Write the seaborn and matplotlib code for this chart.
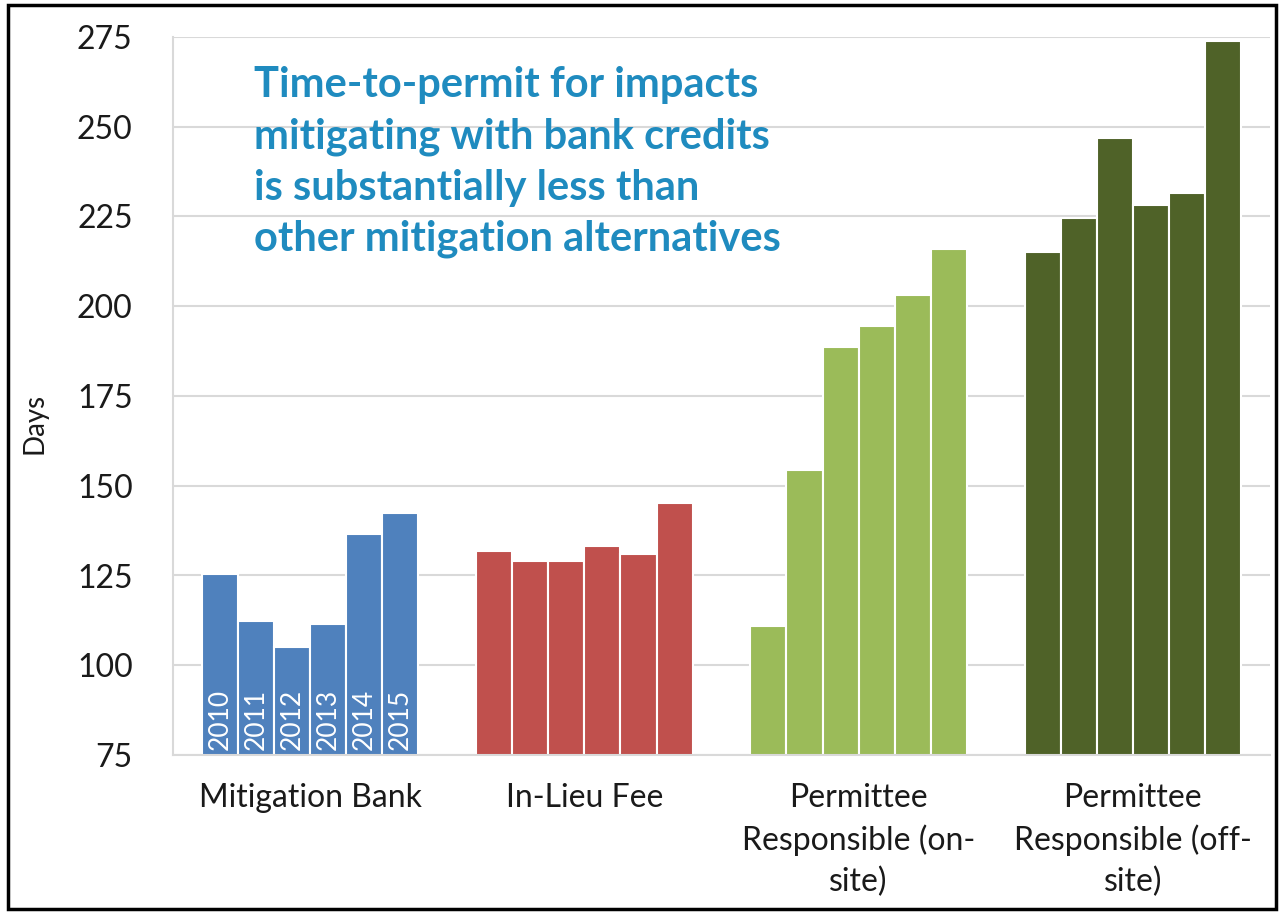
import matplotlib
matplotlib.use("Agg")
import matplotlib.pyplot as plt
import seaborn as sns
import pandas as pd
from matplotlib.patches import Rectangle

categories = ["Mitigation Bank", "In-Lieu Fee",
              "Permittee Responsible (on-site)", "Permittee Responsible (off-site)"]
tick_labels = ["Mitigation Bank", "In-Lieu Fee",
               "Permittee\nResponsible (on-\nsite)", "Permittee\nResponsible (off-\nsite)"]
years = ["2010", "2011", "2012", "2013", "2014", "2015"]
mitigation_bank = [125.3, 112.2, 105.1, 111.5, 136.6, 142.3]
in_lieu_fee = [131.8, 128.9, 128.9, 133.2, 131.0, 145.1]
permittee_on_site = [110.8, 154.5, 188.6, 194.6, 203.2, 216.0]
permittee_off_site = [215.1, 224.6, 246.8, 228.2, 231.6, 273.8]
colors = ["#4F81BD", "#C0504D", "#9BBB59", "#4F6228"]
note = ("Time-to-permit for impacts\nmitigating with bank credits\n"
        "is substantially less than\nother mitigation alternatives")

rows = []
for cat, vals in zip(categories, [mitigation_bank, in_lieu_fee, permittee_on_site, permittee_off_site]):
    for y, v in zip(years, vals):
        rows.append({"category": cat, "year": y, "days": v})
df = pd.DataFrame(rows)

sns.set_theme(style="white")
plt.rcParams["font.family"] = ["Lato", "DejaVu Sans"]

fig = plt.figure(figsize=(12.83, 9.13), dpi=100)
ax = fig.add_axes([173/1283, 1-755/913, (1270-173)/1283, (755-37)/913])

sns.barplot(data=df, x="category", y="days", hue="year", order=categories,
            hue_order=years, dodge=True, width=0.79, legend=False, ax=ax,
            edgecolor="white", linewidth=1.5, errorbar=None)

for container in ax.containers:
    for i, bar in enumerate(container):
        bar.set_facecolor(colors[i])

# year labels inside Mitigation Bank bars
for container, yr in zip(ax.containers, years):
    bar = container[0]
    ax.text(bar.get_x() + bar.get_width()/2, 76.3, yr, rotation=90,
            ha="center", va="bottom", color="white", fontsize=19)

ax.set_ylim(75, 275)
ax.set_xlim(-0.5, 3.5)
ax.set_yticks([75, 100, 125, 150, 175, 200, 225, 250, 275])
ax.yaxis.grid(True, color="#D9D9D9", linewidth=1.5)
ax.set_axisbelow(True)
for s in ["top", "right"]:
    ax.spines[s].set_visible(False)
for s in ["left", "bottom"]:
    ax.spines[s].set_color("#D9D9D9")
    ax.spines[s].set_linewidth(1.5)
ax.set_xticks(range(4))
ax.set_xticklabels(tick_labels, fontsize=23, linespacing=1.45)
ax.tick_params(axis="y", labelsize=23, pad=29, length=0)
ax.tick_params(axis="x", pad=20, length=0)
ax.set_xlabel("")
ax.set_ylabel("")
for t in ax.get_yticklabels() + ax.get_xticklabels():
    t.set_color("#1a1a1a")

fig.text(35/1283, 1-423/913, "Days", rotation=90, ha="center", va="center",
         fontsize=20, color="#1a1a1a")

ax.text(254/1283, 1-66/913, note, transform=fig.transFigure, ha="left", va="top",
        fontsize=30, fontweight="bold", color="#1F8BBF", linespacing=1.42)

fig.add_artist(Rectangle((8/1283, 1-909/913), (1276-8)/1283, (909-5)/913,
                         transform=fig.transFigure, fill=False, edgecolor="black", linewidth=2.5))

fig.savefig("out.png", dpi=100)
